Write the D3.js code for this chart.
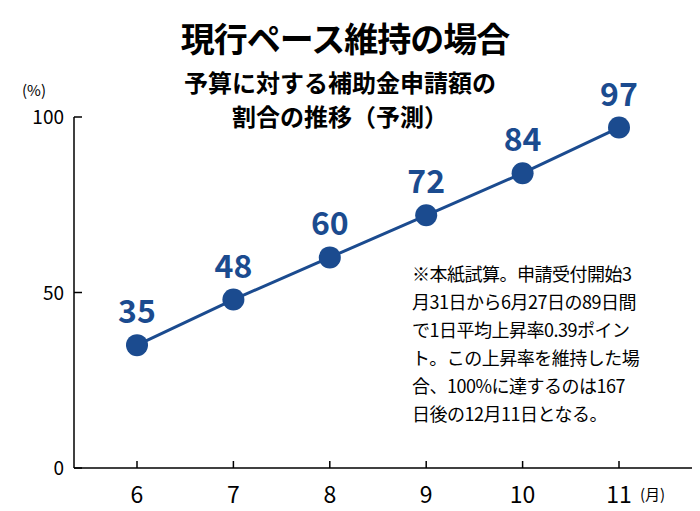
<!DOCTYPE html>
<html><head><meta charset="utf-8">
<script src="https://cdn.jsdelivr.net/npm/d3@7"></script>
<style>body{margin:0;background:#fff}text{font-family:"Noto Sans CJK JP",sans-serif}</style>
</head><body><svg id="c" width="700" height="511"></svg>
<script>
const months = [6, 7, 8, 9, 10, 11]
const values = [35, 48, 60, 72, 84, 97]
const yTicks = [0, 50, 100]
const note = ['※本紙試算。申請受付開始3', '月31日から6月27日の89日間', 'で1日平均上昇率0.39ポイン', 'ト。この上昇率を維持した場', '合、100%に達するのは167', '日後の12月11日となる。']

const svg = d3.select('#c')
const blue = '#1b4b8f'
const x = d3.scaleLinear().domain([6, 11]).range([137, 619])
const y = d3.scaleLinear().domain([0, 100]).range([468, 117])

// titles
svg.append('text').attr('x', 345).attr('y', 52).attr('text-anchor', 'middle')
  .attr('font-size', 34).attr('font-weight', 'bold').attr('letter-spacing', -1).text('現行ペース維持の場合')
svg.append('text').attr('x', 340).attr('y', 92).attr('text-anchor', 'middle')
  .attr('font-size', 24).attr('font-weight', 'bold').text('予算に対する補助金申請額の')
svg.append('text').attr('x', 340).attr('y', 126).attr('text-anchor', 'middle')
  .attr('font-size', 24).attr('font-weight', 'bold').text('割合の推移（予測）')

// axes
svg.append('line').attr('x1', 74).attr('x2', 74).attr('y1', y(100)).attr('y2', y(0)).attr('stroke', '#000').attr('stroke-width', 1.5)
svg.append('line').attr('x1', 74).attr('x2', 692).attr('y1', y(0)).attr('y2', y(0)).attr('stroke', '#000').attr('stroke-width', 1.5)
yTicks.forEach(t => {
  svg.append('line').attr('x1', 74).attr('x2', 82).attr('y1', y(t)).attr('y2', y(t)).attr('stroke', '#000').attr('stroke-width', 1.5)
  svg.append('text').attr('x', 64).attr('y', y(t) + 7).attr('text-anchor', 'end').attr('font-size', 19).text(t)
})
svg.append('text').attr('x', 22).attr('y', 96).attr('font-size', 15).text('(%)')
months.forEach(m => {
  svg.append('line').attr('x1', x(m)).attr('x2', x(m)).attr('y1', y(0)).attr('y2', y(0) - 7).attr('stroke', '#000').attr('stroke-width', 1.5)
  svg.append('text').attr('x', x(m)).attr('y', 503).attr('text-anchor', 'middle').attr('font-size', 23).text(m)
})
svg.append('text').attr('x', 640).attr('y', 500).attr('font-size', 15).text('(月)')

// line + dots
const pts = months.map((m, i) => [m, values[i]])
svg.append('path').datum(pts).attr('fill', 'none').attr('stroke', blue).attr('stroke-width', 3)
  .attr('d', d3.line().x(d => x(d[0])).y(d => y(d[1])))
svg.selectAll('circle').data(pts).join('circle').attr('cx', d => x(d[0])).attr('cy', d => y(d[1])).attr('r', 11).attr('fill', blue)
svg.selectAll('.lab').data(pts).join('text').attr('x', d => x(d[0])).attr('y', d => y(d[1]) - 22)
  .attr('text-anchor', 'middle').attr('font-size', 32).attr('font-weight', 'bold').attr('fill', blue).text(d => d[1])

// note
note.forEach((s, i) => {
  svg.append('text').attr('x', 412).attr('y', 281 + i * 28).attr('font-size', 18).attr('letter-spacing', -0.5).text(s)
})
</script></body></html>
